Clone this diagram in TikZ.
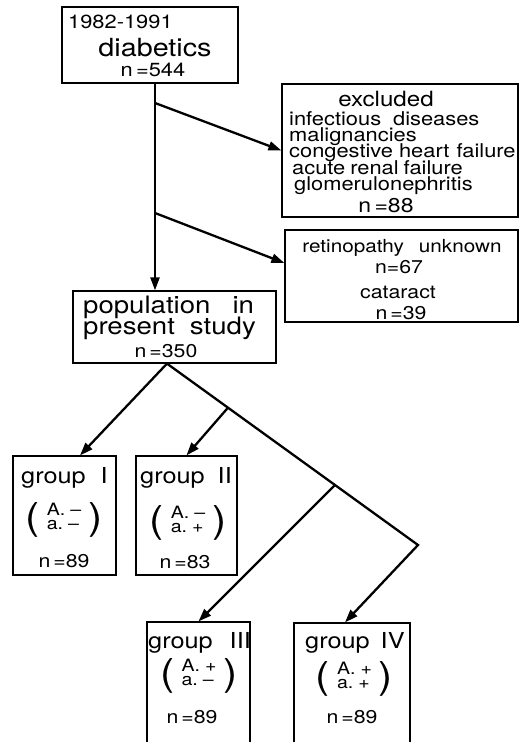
\documentclass[tikz,border=0pt]{standalone}
\usepackage{fontspec}
\setmainfont[FakeStretch=1.15]{TeX Gyre Heros}
\usetikzlibrary{arrows.meta}
% wide gap between words
\newcommand{\wsp}[1]{\hspace{#1pt}}
% sign pair in big brackets
\newcommand{\signs}[2]{{\fontsize{37}{37}\selectfont(}\hspace{7pt}%
  \raisebox{0pt}{\fontsize{17}{14}\selectfont\begin{tabular}[b]{@{}l@{}}A.\wsp{5}#1\\a.\wsp{5}#2\end{tabular}}%
  \hspace{7pt}{\fontsize{37}{37}\selectfont)}}

\begin{document}
\begin{tikzpicture}[x=1pt,y=-1pt,
  box/.style={draw,line width=1.2pt,inner sep=0pt},
  txt/.style={anchor=base west,inner sep=0pt},
  ctxt/.style={anchor=base,inner sep=0pt},
  fsz/.style={font=\fontsize{#1}{#1}\selectfont},
  link/.style={line width=2.3pt},
  arr/.style={link,-{Triangle[length=13pt,width=9pt]}}]

\useasboundingbox (0,0) rectangle (519,742);

% start
    \node[box,minimum width=176pt,minimum height=76pt] (diab) at (150,45) {};
    \node[txt,fsz=19] (diabyr) at (68,28) {1982-1991};
    \node[ctxt,fsz=25] (diabtl) at (155,56) {diabetics};
    \node[ctxt,fsz=19] (diabn) at (153,76) {n\,=544};

% excluded
    \node[box,minimum width=236pt,minimum height=133pt] (excl) at (400,150.5) {};
    \node[ctxt,fsz=21] (excltl) at (386,106) {excluded};
  \foreach \y/\x/\t [count=\k] in {125/289/{infectious\wsp{12}diseases},
      141/289/{malignancies},
      157/289/{congestive\wsp{6}heart\wsp{7}failure},
      174/292/{acute\wsp{5}renal\wsp{5}failure},
      190/294/{glomerulonephritis}}
    \node[txt,fsz=19] (excl\k) at (\x,\y) {\t};
    \node[ctxt,fsz=20] (excln) at (386,212) {n\,=88};

% unknown retinopathy, cataract
    \node[box,minimum width=233pt,minimum height=92pt] (retino) at (401.5,276) {};
    \node[ctxt,fsz=18] (retino1) at (402,252) {retinopathy\wsp{15}unknown};
    \node[ctxt,fsz=18.5] (retino2) at (399,273) {n=67};
    \node[ctxt,fsz=18.5] (retino3) at (398,298) {cataract};
    \node[ctxt,fsz=18.5] (retino4) at (401,319) {n\,=39};

% study population
    \node[box,minimum width=203pt,minimum height=72pt] (pop) at (174.5,327) {};
    \node[txt,fsz=24] (pop1) at (83,313) {population\wsp{22}in};
    \node[txt,fsz=24] (pop2) at (83,334) {present\wsp{15}study};
    \node[ctxt,fsz=18.5] (popn) at (166,357) {n\,=350};

% groups
    \node[box,minimum width=103pt,minimum height=119pt] (g1) at (64.5,515.5) {};
    \node[box,minimum width=101pt,minimum height=119pt] (g2) at (186.5,515.5) {};
    \node[box,minimum width=103pt,minimum height=140pt] (g3) at (198.5,692) {};
    \node[box,minimum width=116pt,minimum height=140pt] (g4) at (352,693) {};
    \node[txt,fsz=22] (g1t) at (21,483) {group\wsp{15}I};
    \node[txt,fsz=22] (g2t) at (140,483) {group\wsp{13}II};
    \node[txt,fsz=22] (g3t) at (148,648) {group\wsp{17}III};
    \node[txt,fsz=22] (g4t) at (305,648) {group\wsp{11}IV};
    \node[ctxt] (g1s) at (64,529.5) {\signs{--}{--}};
    \node[ctxt] (g2s) at (188,532.5) {\signs{--}{+}};
    \node[ctxt] (g3s) at (199,685.5) {\signs{+}{--}};
    \node[ctxt] (g4s) at (354.5,688.5) {\signs{+}{+}};
    \node[ctxt,fsz=18.5] (g1n) at (64,567) {n\,=89};
    \node[ctxt,fsz=18.5] (g2n) at (185,568) {n\,=83};
    \node[ctxt,fsz=18.5] (g3n) at (192,723) {n\,=89};
    \node[ctxt,fsz=18.5] (g4n) at (352,723) {n\,=89};

% Arrows
    \coordinate (b1) at (155,103);
    \coordinate (b2) at (155,213);
    \draw[arr] (diab.south -| b1) -- (pop.north -| b1);
    \draw[arr] (b1) -- (excl.west);
    \draw[arr] (b2) -- ([yshift=13pt]retino.west);

    \coordinate (apex) at ([xshift=-7.5pt]pop.south);
    \coordinate (corner) at (418,545);
    \path (apex) -- (corner) coordinate[pos=0.243] (s2) coordinate[pos=0.669] (s3);
    \draw[arr] (apex) -- ([xshift=15.5pt]g1.north);
    \draw[arr] (apex) -- (corner) -- ([xshift=-7pt]g4.north);
    \draw[arr] (s2) -- (g2.north);
    \draw[arr] (s3) -- (g3.north);
\end{tikzpicture}
\end{document}
